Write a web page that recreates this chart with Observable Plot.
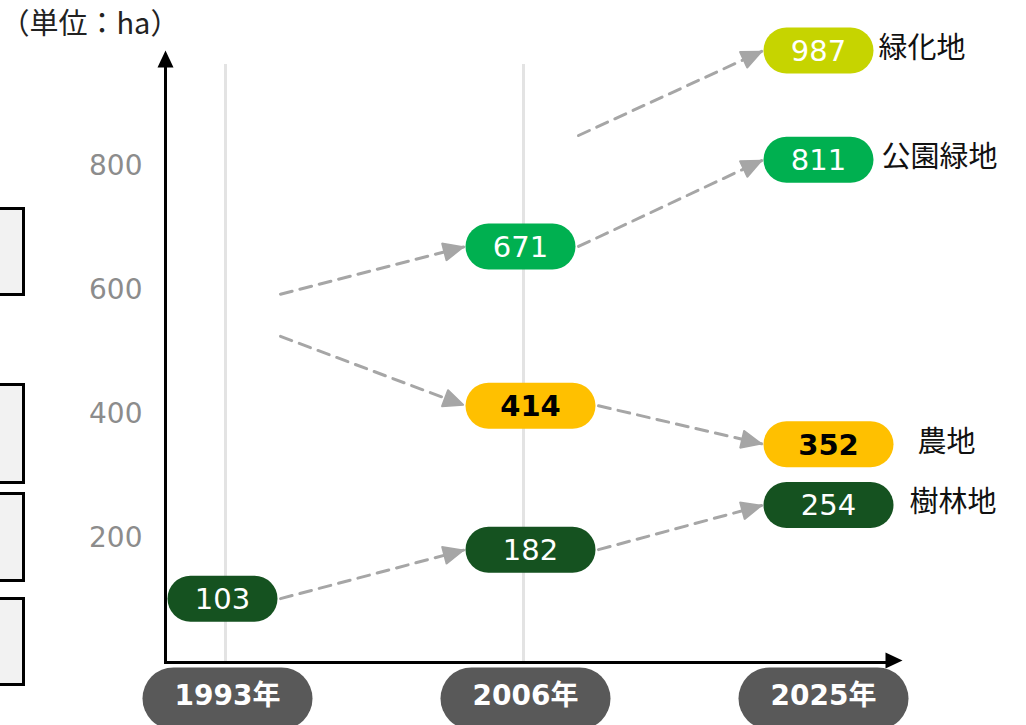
<!DOCTYPE html>
<html><head><meta charset="utf-8">
<script src="https://cdn.jsdelivr.net/npm/d3@7"></script>
<script src="https://cdn.jsdelivr.net/npm/@observablehq/plot@0.6"></script>
<style>
body{margin:0;background:#fff;overflow:hidden}
#wrap{position:relative;width:1026px;height:725px}
.box{position:absolute;left:-10px;width:35px;border:3px solid #000;background:#f2f2f2;box-sizing:border-box}
</style></head><body><div id="wrap"></div>
<script>
// ---- data ----
const years = ["1993年", "2006年", "2025年"];
const categories = ["緑化地", "公園緑地", "農地", "樹林地"];
const greening = [null, 850, 987];   // 緑化地 (2006 value: arrow origin only)
const parks    = [594, 671, 811];    // 公園緑地 (1993 value: arrow origin only)
const farmland = [526, 414, 352];    // 農地 (1993 value: arrow origin only)
const woodland = [103, 182, 254];    // 樹林地
const shownFlags = [
  [false, false, true],
  [false, true, true],
  [false, true, true],
  [true, true, true]
];
const yTicks = [200, 400, 600, 800];
const unitLabel = "（単位：ha）";

// ---- styles ----
const seriesValues = [greening, parks, farmland, woodland];
const colors = {"緑化地": "#C6D400", "公園緑地": "#00B050", "農地": "#FFC000", "樹林地": "#155220"};
const labelGap = {"緑化地": 5, "公園緑地": 8, "農地": 24, "樹林地": 16};
const pillWidth = (cat, i) => ((cat === "農地" || cat === "樹林地") && i > 0) ? 130 : 110;
const PH = 46;
const ARROW = "#a6a6a6";

function pill(w, h) {
  const r = h / 2;
  return {draw(ctx) {
    ctx.moveTo(r, -r); ctx.lineTo(w - r, -r);
    ctx.arc(w - r, 0, r, -Math.PI / 2, Math.PI / 2);
    ctx.lineTo(r, r);
    ctx.arc(r, 0, r, Math.PI / 2, 3 * Math.PI / 2);
    ctx.closePath();
  }};
}
function pillC(w, h) {
  const r = h / 2, a = w / 2;
  return {draw(ctx) {
    ctx.moveTo(-a + r, -r); ctx.lineTo(a - r, -r);
    ctx.arc(a - r, 0, r, -Math.PI / 2, Math.PI / 2);
    ctx.lineTo(-a + r, r);
    ctx.arc(-a + r, 0, r, Math.PI / 2, 3 * Math.PI / 2);
    ctx.closePath();
  }};
}
const triUp = {draw(ctx) { ctx.moveTo(0, 8); ctx.lineTo(8, 25); ctx.lineTo(-8, 25); ctx.closePath(); }};
const triRight = {draw(ctx) { ctx.moveTo(14, -2); ctx.lineTo(-3, -10); ctx.lineTo(-3, 6); ctx.closePath(); }};

// ---- tables ----
const points = [];
const arrows = [];
categories.forEach((cat, c) => {
  const vals = seriesValues[c];
  let prev = null;
  vals.forEach((v, i) => {
    if (v == null) return;
    const p = {cat, i, year: years[i], value: v, shown: shownFlags[c][i]};
    points.push(p);
    if (prev) arrows.push({cat, fromYear: prev.year, fromValue: prev.value, toYear: p.year, toValue: p.value, startW: pillWidth(cat, prev.i)});
    prev = p;
  });
});
const visible = points.filter(p => p.shown);
const last = categories.map((cat) => points.filter(p => p.cat === cat).slice(-1)[0]);

const FONT = "'DejaVu Sans', 'Noto Sans CJK JP', sans-serif";
const CJK = "'Noto Sans CJK JP', sans-serif";

const marks = [
  Plot.ruleX(years.slice(0, 2), {stroke: "#e3e3e3", strokeWidth: 3, dx: 58, insetTop: 22}),
  Plot.axisY(yTicks, {tickSize: 0, tickPadding: 23, fontSize: 28, color: "#8c8c8c", label: null}),
  Plot.frame({anchor: "left", stroke: "#000", strokeWidth: 3, insetTop: 22}),
  Plot.ruleY([0], {stroke: "#000", strokeWidth: 3}),
  Plot.dot([0], {frameAnchor: "top-left", symbol: triUp, fill: "#000", stroke: "none"}),
  Plot.dot([0], {frameAnchor: "bottom-right", symbol: triRight, fill: "#000", stroke: "none"}),
  Plot.arrow(arrows, {
    x1: "fromYear", y1: "fromValue", x2: "toYear", y2: "toValue",
    stroke: ARROW, strokeWidth: 3, strokeDasharray: "12,8",
    headLength: 11, headAngle: 48, insetEnd: 2,
    render(index, scales, values, dimensions, context, next) {
      const x1 = Array.from(values.x1, (v, i) => v + arrows[i].startW + 3);
      const g = next(index, scales, {...values, x1}, dimensions, context);
      g.querySelectorAll("path").forEach(p => {
        const d = p.getAttribute("d");
        const k = d.indexOf("M", 1);
        if (k > 0) {
          p.setAttribute("d", d.slice(0, k));
          const h = document.createElementNS("http://www.w3.org/2000/svg", "path");
          h.setAttribute("d", d.slice(k) + "Z");
          h.setAttribute("fill", ARROW);
          h.setAttribute("stroke", ARROW);
          h.setAttribute("stroke-width", "1.5");
          h.setAttribute("stroke-dasharray", "none");
          h.setAttribute("stroke-linejoin", "miter");
          p.parentNode.appendChild(h);
        }
      });
      return g;
    }
  })
];

visible.forEach(p => {
  const w = pillWidth(p.cat, p.i);
  const bold = p.cat === "農地";
  marks.push(Plot.dot([p], {x: "year", y: "value", symbol: pill(w, PH), fill: colors[p.cat], stroke: "none"}));
  marks.push(Plot.text([p], {x: "year", y: "value", text: d => String(d.value), dx: w / 2, dy: 1,
    fill: bold ? "#000" : "#fff", fontWeight: bold ? "bold" : "normal", fontSize: 29}));
});
last.forEach(p => {
  marks.push(Plot.text([p], {x: "year", y: "value", text: "cat", textAnchor: "start",
    dx: pillWidth(p.cat, p.i) + labelGap[p.cat], dy: -2, fontSize: 29, fill: "#111", fontFamily: CJK}));
});
marks.push(Plot.dot(years, {x: d => d, frameAnchor: "bottom", dy: 36, dx: 60, symbol: pillC(170, 62), fill: "#595959", stroke: "none"}));
marks.push(Plot.text(years, {x: d => d, text: d => d, frameAnchor: "bottom", dy: 42, dx: 60, fill: "#fff", fontWeight: "bold", fontSize: 28}));
marks.push(Plot.text([unitLabel], {text: d => d, frameAnchor: "top-left", dx: -165, dy: -29, textAnchor: "start", fontSize: 29, fill: "#222", fontFamily: CJK}));

const chart = Plot.plot({
  width: 1026, height: 725,
  marginLeft: 165, marginRight: 138, marginTop: 42, marginBottom: 63,
  style: {fontFamily: FONT, background: "#fff", overflow: "visible"},
  x: {type: "point", domain: years, range: [167, 763], padding: 0, axis: null},
  y: {domain: [0, 1000], axis: null},
  marks
});
const wrap = document.getElementById("wrap");
wrap.appendChild(chart);
[[207, 89], [383, 101], [492, 90], [597, 89]].forEach(([t, h]) => {
  const b = document.createElement("div");
  b.className = "box"; b.style.top = t + "px"; b.style.height = h + "px";
  wrap.appendChild(b);
});
</script></body></html>
